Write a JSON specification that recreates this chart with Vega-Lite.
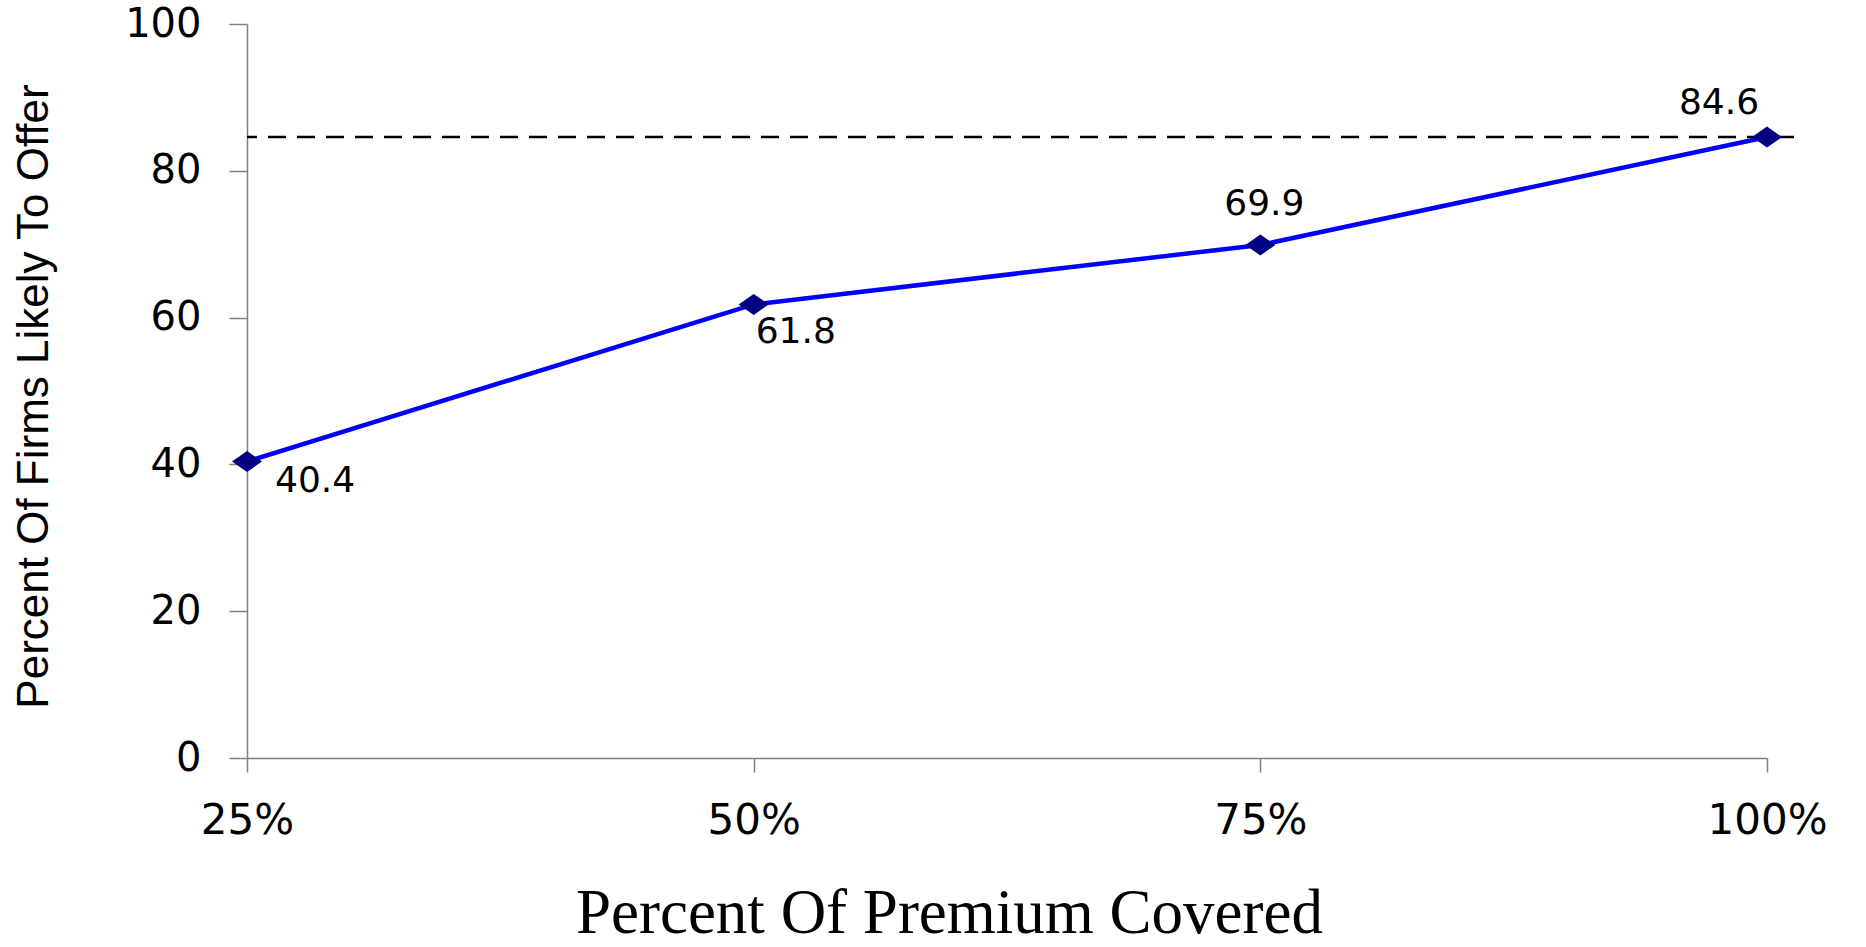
{
  "$schema": "https://vega.github.io/schema/vega-lite/v6.json",
  "width": 1547,
  "height": 734,
  "autosize": "none",
  "padding": {"left": 247, "top": 24, "right": 72, "bottom": 189},
  "background": "white",
  "config": {"view": {"stroke": null}},
  "data": {"values": [
    {"premium": 25, "pct": 40.4},
    {"premium": 50, "pct": 61.8},
    {"premium": 75, "pct": 69.9},
    {"premium": 100, "pct": 84.6}
  ]},
  "layer": [
    {
      "transform": [{"filter": "datum.premium == 100"}],
      "mark": {"type": "rule", "strokeDash": [18, 11], "strokeWidth": 2.5, "color": "black"},
      "encoding": {"y": {"field": "pct", "type": "quantitative"}}
    },
    {
      "mark": {"type": "line", "color": "#0000FF", "strokeWidth": 4.5},
      "encoding": {
        "x": {
          "field": "premium", "type": "quantitative",
          "scale": {"domain": [25, 100], "range": [0, 1520], "nice": false, "zero": false},
          "axis": {
            "values": [25, 50, 75, 100],
            "labelExpr": "datum.value + '%'",
            "title": "Percent Of Premium Covered",
            "grid": false,
            "domainColor": "#808080", "domainWidth": 1.5,
            "tickColor": "#808080", "tickWidth": 1.5, "tickSize": 14,
            "labelFont": "DejaVu Sans", "labelFontSize": 42, "labelColor": "black",
            "labelPadding": 61, "labelBaseline": "alphabetic", "labelFlush": false, "labelOverlap": false,
            "titleFont": "Liberation Serif", "titleFontSize": 63, "titleFontWeight": "normal", "titleColor": "black",
            "titleX": 702, "titleY": 174, "titleBaseline": "alphabetic", "titleAlign": "center"
          }
        },
        "y": {
          "field": "pct", "type": "quantitative",
          "scale": {"domain": [0, 100], "nice": false},
          "axis": {
            "values": [0, 20, 40, 60, 80, 100],
            "title": "Percent Of Firms Likely To Offer",
            "grid": false,
            "domainColor": "#808080", "domainWidth": 1.5,
            "tickColor": "#808080", "tickWidth": 1.5, "tickSize": 18,
            "labelFont": "DejaVu Sans", "labelFontSize": 40, "labelColor": "black",
            "labelPadding": 28, "labelBaseline": "middle", "labelFlush": false, "labelOverlap": false,
            "titleFont": "Liberation Sans", "titleFontSize": 44, "titleFontWeight": "normal", "titleColor": "black",
            "titleX": -200, "titleY": 372, "titleBaseline": "alphabetic", "titleAlign": "center", "titleAngle": 270
          }
        }
      }
    },
    {
      "mark": {"type": "point", "filled": true, "opacity": 1, "shape": "M-1,0L0,-0.7L1,0L0,0.7Z", "size": 900, "color": "#000080"},
      "encoding": {
        "x": {"field": "premium", "type": "quantitative"},
        "y": {"field": "pct", "type": "quantitative"}
      }
    },
    {
      "transform": [{"filter": "datum.premium == 25"}],
      "mark": {"type": "text", "font": "DejaVu Sans", "fontSize": 36, "color": "black", "align": "left", "baseline": "alphabetic", "dx": 28, "dy": 31},
      "encoding": {
        "x": {"field": "premium", "type": "quantitative"},
        "y": {"field": "pct", "type": "quantitative"},
        "text": {"field": "pct", "type": "quantitative", "format": ".1f"}
      }
    },
    {
      "transform": [{"filter": "datum.premium == 50"}],
      "mark": {"type": "text", "font": "DejaVu Sans", "fontSize": 36, "color": "black", "align": "left", "baseline": "alphabetic", "dx": 2, "dy": 39},
      "encoding": {
        "x": {"field": "premium", "type": "quantitative"},
        "y": {"field": "pct", "type": "quantitative"},
        "text": {"field": "pct", "type": "quantitative", "format": ".1f"}
      }
    },
    {
      "transform": [{"filter": "datum.premium == 75"}],
      "mark": {"type": "text", "font": "DejaVu Sans", "fontSize": 36, "color": "black", "align": "center", "baseline": "alphabetic", "dx": 4, "dy": -30},
      "encoding": {
        "x": {"field": "premium", "type": "quantitative"},
        "y": {"field": "pct", "type": "quantitative"},
        "text": {"field": "pct", "type": "quantitative", "format": ".1f"}
      }
    },
    {
      "transform": [{"filter": "datum.premium == 100"}],
      "mark": {"type": "text", "font": "DejaVu Sans", "fontSize": 36, "color": "black", "align": "center", "baseline": "alphabetic", "dx": -48, "dy": -23},
      "encoding": {
        "x": {"field": "premium", "type": "quantitative"},
        "y": {"field": "pct", "type": "quantitative"},
        "text": {"field": "pct", "type": "quantitative", "format": ".1f"}
      }
    }
  ]
}
